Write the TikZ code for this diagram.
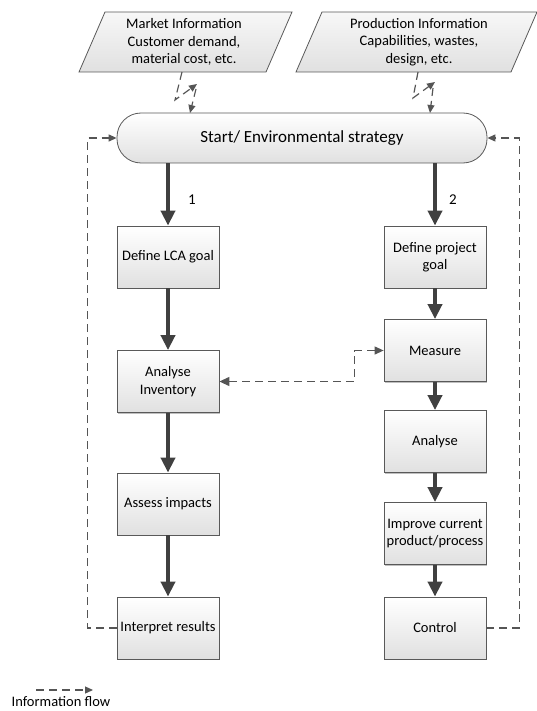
\documentclass[tikz,border=0pt]{standalone}
\usepackage{fontspec}
\setmainfont{Carlito}
\usetikzlibrary{arrows.meta,shadows}
\definecolor{edgec}{HTML}{595959}
\definecolor{arrc}{HTML}{404040}
\definecolor{dashc}{HTML}{555555}
\tikzset{
  procbox/.style={draw=edgec, line width=0.8pt, top color=white, bottom color=black!12,
    minimum width=102pt, minimum height=62pt, inner sep=1pt, align=center,
    font=\fontsize{14.5}{17.5}\selectfont,
    drop shadow={shadow xshift=1.2pt, shadow yshift=-1.2pt, opacity=0.25, fill=black}},
  startbox/.style={draw=edgec, line width=0.8pt, top color=white, bottom color=black!12,
    rounded corners=24pt, minimum width=370pt, minimum height=50pt,
    font=\fontsize{17}{20}\selectfont},
  paragram/.style={draw=edgec, line width=0.8pt, top color=black!3, bottom color=black!12},
  paratext/.style={align=center, font=\fontsize{14.5}{17.5}\selectfont},
  flowarrow/.style={draw=arrc, line width=4pt, -{Triangle[length=15pt,width=14pt]}},
  infoline/.style={draw=dashc, line width=1.2pt, dash pattern=on 8pt off 5pt},
  info/.style={infoline, -{Triangle[length=8pt,width=7pt]}},
  lbl/.style={font=\fontsize{15}{17}\selectfont},
}
\begin{document}
\begin{tikzpicture}[x=1pt,y=-1pt]
\useasboundingbox (0,0) rectangle (537,711);

% information parallelograms
\draw[paragram] (79,72) -- (266,72) -- (292,12) -- (105,12) -- cycle;
\node[paratext] (mkt) at (184,42) {Market Information\\Customer demand,\\material cost, etc.};
\draw[paragram] (296,72) -- (511,72) -- (537,12) -- (322,12) -- cycle;
\node[paratext] (prd) at (419,42) {Production Information\\Capabilities, wastes,\\design, etc.};

% start
\node[startbox] (start) at (302,138) {Start/ Environmental strategy};

% left column
\node[procbox] (lca) at (168,257) {Define LCA goal};
\node[procbox] (inv) at (168,381.5) {Analyse\\Inventory};
\node[procbox] (ass) at (168,504) {Assess impacts};
\node[procbox] (int) at (168,628) {Interpret results};

% right column
\node[procbox] (pgoal) at (435,257) {Define project\\goal};
\node[procbox] (meas) at (435,350.5) {Measure};
\node[procbox] (anl) at (435,441.5) {Analyse};
\node[procbox] (imp) at (435,533.5) {Improve current\\product/process};
\node[procbox] (ctl) at (435,628) {Control};

% labels
\node[lbl] (one) at (192,200) {1};
\node[lbl] (two) at (453,200) {2};

% thick arrows
\draw[flowarrow] (lca.north |- start.south) -- (lca.north);
\draw[flowarrow] (lca) -- (inv);
\draw[flowarrow] (inv) -- (ass);
\draw[flowarrow] (ass) -- (int);
\draw[flowarrow] (pgoal.north |- start.south) -- (pgoal.north);
\draw[flowarrow] (pgoal) -- (meas);
\draw[flowarrow] (meas) -- (anl);
\draw[flowarrow] (anl) -- (imp);
\draw[flowarrow] (imp) -- (ctl);

% information flows
\draw[infoline, {Triangle[length=10pt,width=9pt]}-{Triangle[length=9pt,width=8pt]}]
  (inv.east) -- ++(135,0) |- (meas.west);
\draw[info] (int.west) -- ++(-29,0) |- (start.west);
\draw[info] (ctl.east) -- ++(33,0) |- (start.east);

% parallelogram connectors
\coordinate (mkb) at (182,72);
\coordinate (mk1) at (175,100);
\coordinate (mk2) at (197,84);
\coordinate (mk3) at (196,89);
\coordinate (mks) at (190,113);
\draw[info] (mkb) -- (mk1) -- (mk2);
\draw[info] (mk3) -- (mks);
\coordinate (pdb) at (418,72);
\coordinate (pd1) at (413,98);
\coordinate (pd2) at (435,82);
\coordinate (pd3) at (433,88);
\coordinate (pds) at (430,113);
\draw[info] (pdb) -- (pd1) -- (pd2);
\draw[info] (pd3) -- (pds);

% legend
\coordinate (lg1) at (36,690);
\coordinate (lg2) at (93,690);
\draw[info] (lg1) -- (lg2);
\node[lbl, font=\fontsize{14.5}{17}\selectfont, inner sep=1pt] (lgt) at (61,702) {Information flow};
\end{tikzpicture}
\end{document}
